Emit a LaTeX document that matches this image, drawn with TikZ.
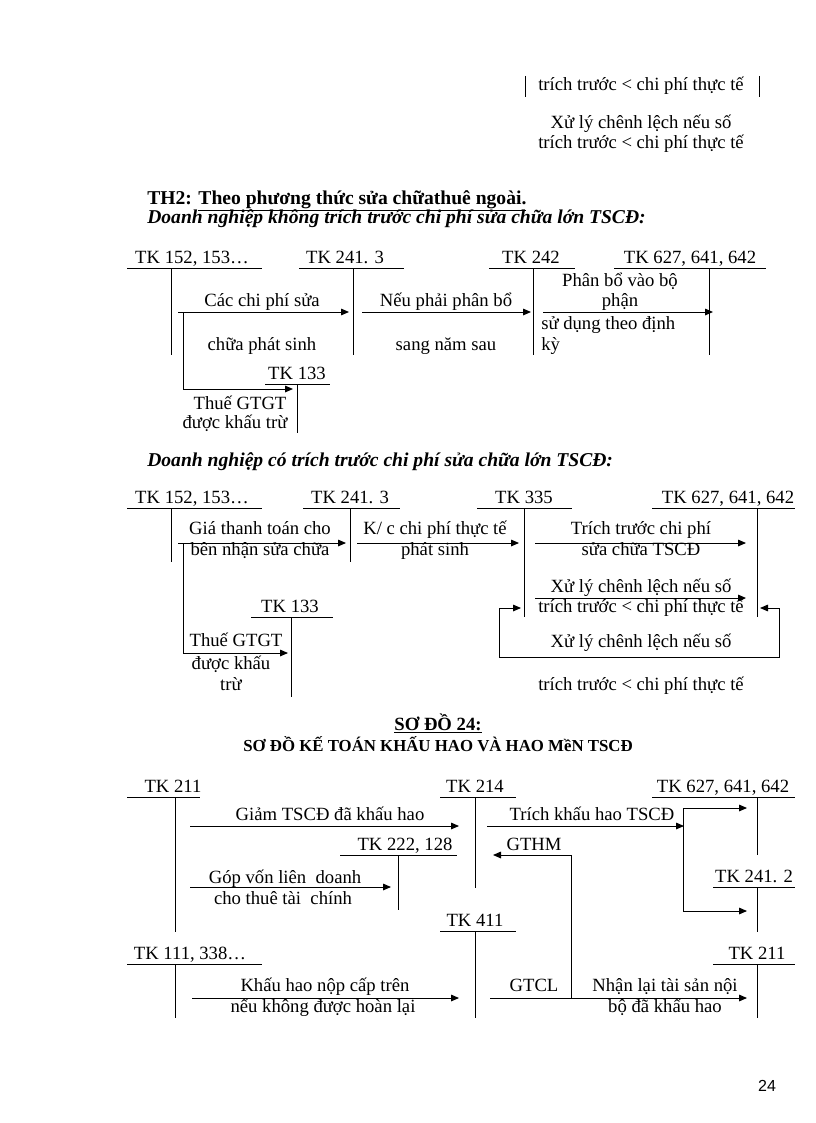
\documentclass[tikz,border=0pt]{standalone}
\usepackage{fontspec}
\setmainfont{Liberation Serif}
\newfontfamily\pnumfont{Liberation Sans}
\usetikzlibrary{arrows.meta}
\newcommand\tacct[8]{%
  \node[lbl] (#1) at (#3,#4) {#2};
  \coordinate (#1ul) at (#5,{#4+9});
  \coordinate (#1ur) at (#6,{#4+9});
  \coordinate (#1vt) at (#7,{#4+9});
  \coordinate (#1vb) at (#7,#8);
  \draw[ln] (#1ul) -- (#1ur);
  \draw[ln] (#1vt) -- (#1vb);
}
\begin{document}
\begin{tikzpicture}[x=0.75pt,y=-0.75pt,
  font=\fontsize{14}{15}\selectfont,
  lbl/.style={inner sep=0pt, text height=9.5pt, text depth=3pt},
  head/.style={lbl, anchor=west, font=\fontsize{14.7}{15}\selectfont\bfseries},
  ln/.style={line width=0.7pt},
  arr/.style={line width=0.7pt,-{Triangle[length=6pt,width=5pt]}},
  darr/.style={line width=0.7pt,{Triangle[length=6pt,width=5pt]}-{Triangle[length=6pt,width=5pt]}}]
\fill[white] (0,0) rectangle (816,1123);
\useasboundingbox (0,0) rectangle (816,1123);

% ---------- top fragment ----------
\coordinate (tb1a) at (525,76); \coordinate (tb1b) at (525,97);
\coordinate (tb2a) at (759,76); \coordinate (tb2b) at (759,97);
\draw[ln] (tb1a) -- (tb1b);
\draw[ln] (tb2a) -- (tb2b);
\node[lbl] (t1) at (641,86) {trích trước < chi phí thực tế};
\node[lbl] (t2) at (641,124) {Xử lý chênh lệch nếu số};
\node[lbl] (t3) at (641,144) {trích trước < chi phí thực tế};

% ---------- headings TH2 ----------
\node[head] (h1) at (147,200) {TH2: \underline{Theo phương thức sửa chữathuê ngoài.}};
\node[head] (h2) at (147,219) {\itshape Doanh nghiệp không trích trước chi phí sửa chữa lớn TSCĐ:};

% ---------- diagram 1 ----------
\tacct{A1}{TK 152, 153…}{192}{259}{127}{262}{171}{355}
\tacct{A2}{TK 241. 3}{345}{259}{299}{404}{353}{355}
\tacct{A3}{TK 242}{531}{259}{489}{575}{533}{355}
\tacct{A4}{TK 627, 641, 642}{690}{259}{614}{766}{709}{355}
\tacct{A5}{TK 133}{297}{375}{265}{330}{297}{433}

\coordinate (a1s) at (178,312); \coordinate (a1e) at (349,312);
\coordinate (a2s) at (362,312); \coordinate (a2e) at (531,312);
\coordinate (a3s) at (543,312); \coordinate (a3e) at (713,312);
\coordinate (a4s) at (183,312); \coordinate (a4c) at (183,389); \coordinate (a4e) at (293,389);
\draw[arr] (a1s) -- (a1e);
\draw[arr] (a2s) -- (a2e);
\draw[arr] (a3s) -- (a3e);
\draw[arr] (a4s) -- (a4c) -- (a4e);

\node[lbl] (l11) at (262,302) {Các chi phí sửa};
\node[lbl] (l12) at (262,346) {chữa phát sinh};
\node[lbl] (l21) at (446,302) {Nếu phải phân bổ};
\node[lbl] (l22) at (446,346) {sang năm sau};
\node[lbl] (l31) at (620,282) {Phân bổ vào bộ};
\node[lbl] (l32) at (620,302) {phận};
\node[lbl,anchor=west] (l33) at (541,325) {sử dụng theo định};
\node[lbl,anchor=west] (l34) at (541,346) {kỳ};
\node[lbl] (l41) at (240,405) {Thuế GTGT};
\node[lbl] (l42) at (235,424) {được khấu trừ};

% ---------- heading 2 ----------
\node[head] (h3) at (147,462) {\itshape Doanh nghiệp có trích trước chi phí sửa chữa lớn TSCĐ:};

% ---------- diagram 2 ----------
\tacct{B1}{TK 152, 153…}{192}{499}{127}{262}{171}{562}
\tacct{B2}{TK 241. 3}{350}{499}{303}{400}{350}{562}
\tacct{B3}{TK 335}{524}{499}{477}{572}{524}{617}
\tacct{B4}{TK 627, 641, 642}{728}{499}{652}{795}{757}{617}
\tacct{B5}{TK 133}{290}{608}{251}{333}{291}{697}

\coordinate (b1s) at (178,543); \coordinate (b1e) at (346,543);
\coordinate (b2s) at (357,543); \coordinate (b2e) at (519,543);
\coordinate (b3s) at (535,543); \coordinate (b3e) at (746,543);
\coordinate (b4s) at (535,598); \coordinate (b4e) at (746,598);
\coordinate (b5s) at (183,543); \coordinate (b5c) at (183,653); \coordinate (b5e) at (288,653);
\coordinate (b6s) at (521,608); \coordinate (b6c1) at (499,608); \coordinate (b6c2) at (499,657);
\coordinate (b6c3) at (779,657); \coordinate (b6c4) at (779,608); \coordinate (b6e) at (760,608);
\draw[arr] (b1s) -- (b1e);
\draw[arr] (b2s) -- (b2e);
\draw[arr] (b3s) -- (b3e);
\draw[arr] (b4s) -- (b4e);
\draw[arr] (b5s) -- (b5c) -- (b5e);
\draw[darr] (b6s) -- (b6c1) -- (b6c2) -- (b6c3) -- (b6c4) -- (b6e);

\node[lbl] (m11) at (260,530) {Giá thanh toán cho};
\node[lbl] (m12) at (260,551) {bên nhận sửa chữa};
\node[lbl] (m21) at (435,530) {K/ c chi phí thực tế};
\node[lbl] (m22) at (435,551) {phát sinh};
\node[lbl] (m31) at (641,530) {Trích trước chi phí};
\node[lbl] (m32) at (641,551) {sửa chữa TSCĐ};
\node[lbl] (m41) at (641,588) {Xử lý chênh lệch nếu số};
\node[lbl] (m42) at (641,608) {trích trước < chi phí thực tế};
\node[lbl] (m51) at (641,643) {Xử lý chênh lệch nếu số};
\node[lbl] (m52) at (641,686) {trích trước < chi phí thực tế};
\node[lbl] (m61) at (236,642) {Thuế GTGT};
\node[lbl] (m62) at (231,665) {được khấu};
\node[lbl] (m63) at (231,686) {trừ};

% ---------- heading 3 ----------
\node[lbl] (h4) at (438,726) {\textbf{\underline{SƠ ĐỒ 24:}}};
\node[lbl] (h5) at (438,747) {\fontsize{12.6}{14}\selectfont\textbf{SƠ ĐỒ KẾ TOÁN KHẤU HAO VÀ HAO MềN TSCĐ}};

% ---------- diagram 3 ----------
\tacct{C1}{TK 211}{173}{788}{127}{200}{175}{932}
\tacct{C2}{TK 214}{475}{788}{440}{516}{475}{888}
\tacct{C3}{TK 627, 641, 642}{723}{788}{652}{795}{757}{855}
\tacct{C4}{TK 222, 128}{405}{846}{340}{457}{398}{910}
\tacct{C5}{TK 241. 2}{754}{878}{713}{795}{757}{932}
\tacct{C6}{TK 411}{475}{922}{440}{516}{475}{1018}
\tacct{C7}{TK 111, 338…}{190}{955}{127}{262}{175}{1018}
\tacct{C8}{TK 211}{757}{955}{713}{795}{757}{1018}

\coordinate (c1s) at (190,826); \coordinate (c1e) at (459,826);
\coordinate (c2s) at (487,826); \coordinate (c2e) at (684,826);
\coordinate (c3t) at (683,808); \coordinate (c3b) at (683,911);
\coordinate (c3te) at (747,808); \coordinate (c3be) at (747,911);
\coordinate (c4s) at (190,887); \coordinate (c4e) at (391,887);
\coordinate (c5s) at (571,998); \coordinate (c5c) at (571,855); \coordinate (c5e) at (493,855);
\coordinate (c6s) at (192,998); \coordinate (c6e) at (459,998);
\coordinate (c7s) at (490,998); \coordinate (c7e) at (747,998);
\draw[arr] (c1s) -- (c1e);
\draw[arr] (c2s) -- (c2e);
\draw[ln] (c3t) -- (c3b);
\draw[arr] (c3t) -- (c3te);
\draw[arr] (c3b) -- (c3be);
\draw[arr] (c4s) -- (c4e);
\draw[arr] (c5s) -- (c5c) -- (c5e);
\draw[arr] (c6s) -- (c6e);
\draw[arr] (c7s) -- (c7e);

\node[lbl] (n1) at (330,816) {Giảm TSCĐ đã khấu hao};
\node[lbl] (n2) at (592,816) {Trích khấu hao TSCĐ};
\node[lbl] (n31) at (285,879) {Góp vốn liên\ \ doanh};
\node[lbl] (n32) at (283,900) {cho thuê tài\ \ chính};
\node[lbl] (n4) at (534,846) {GTHM};
\node[lbl] (n51) at (325,987) {Khấu hao nộp cấp trên};
\node[lbl] (n52) at (323,1008) {nếu không được hoàn lại};
\node[lbl] (n6) at (534,987) {GTCL};
\node[lbl] (n71) at (665,987) {Nhận lại tài sản nội};
\node[lbl] (n72) at (665,1008) {bộ đã khấu hao};

% ---------- page number ----------
\node[lbl] (pg) at (767,1087) {\pnumfont\fontsize{12}{14}\selectfont 24};
\end{tikzpicture}
\end{document}
